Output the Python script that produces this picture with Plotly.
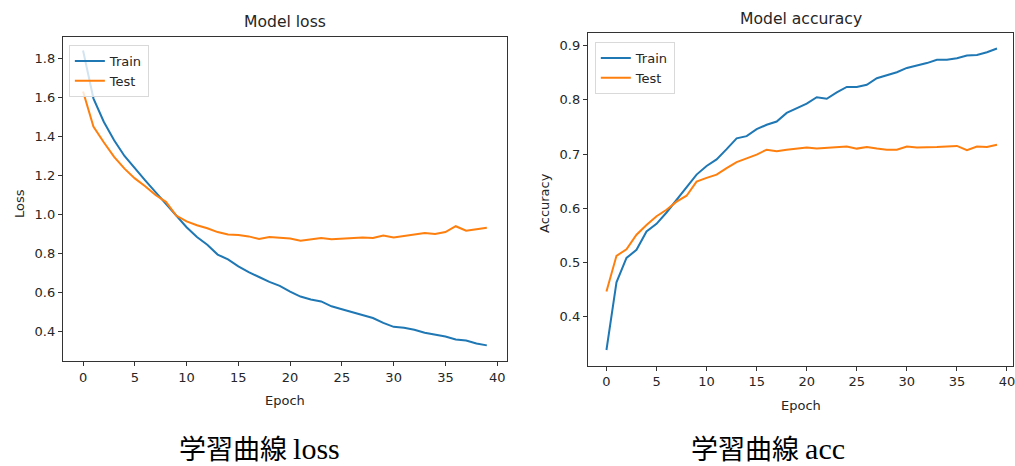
import plotly.graph_objects as go

epochs = list(range(40))

train_loss = [1.84, 1.595, 1.475, 1.38, 1.30, 1.235, 1.175, 1.115, 1.055, 0.995,
              0.935, 0.885, 0.845, 0.795, 0.77, 0.735, 0.705, 0.68, 0.655, 0.635,
              0.605, 0.58, 0.565, 0.555, 0.53, 0.515, 0.50, 0.485, 0.47, 0.445,
              0.425, 0.42, 0.41, 0.395, 0.385, 0.375, 0.36, 0.355, 0.34, 0.33]
test_loss = [1.63, 1.45, 1.37, 1.295, 1.235, 1.185, 1.145, 1.10, 1.065, 0.995,
             0.965, 0.945, 0.93, 0.91, 0.898, 0.895, 0.888, 0.875, 0.885, 0.88,
             0.877, 0.866, 0.874, 0.88, 0.874, 0.878, 0.88, 0.883, 0.88, 0.892,
             0.883, 0.89, 0.895, 0.905, 0.90, 0.91, 0.94, 0.917, 0.925, 0.932]
train_acc = [0.338, 0.463, 0.508, 0.523, 0.557, 0.571, 0.592, 0.616, 0.64, 0.662,
             0.678, 0.69, 0.709, 0.729, 0.733, 0.746, 0.754, 0.76, 0.776, 0.785,
             0.793, 0.805, 0.802, 0.814, 0.824, 0.824, 0.828, 0.84, 0.845, 0.851,
             0.859, 0.863, 0.868, 0.874, 0.874, 0.877, 0.882, 0.883, 0.888, 0.895]
test_acc = [0.446, 0.512, 0.524, 0.551, 0.569, 0.585, 0.597, 0.612, 0.623, 0.649,
            0.656, 0.662, 0.674, 0.685, 0.692, 0.699, 0.708, 0.705, 0.708, 0.71,
            0.712, 0.71, 0.711, 0.713, 0.714, 0.71, 0.713, 0.71, 0.708, 0.708,
            0.714, 0.712, 0.712, 0.713, 0.714, 0.715, 0.707, 0.714, 0.713, 0.717]

series_names = ["Train", "Test"]
loss_yticks = [0.4, 0.6, 0.8, 1.0, 1.2, 1.4, 1.6, 1.8]
acc_yticks = [0.4, 0.5, 0.6, 0.7, 0.8, 0.9]
xticks = [0, 5, 10, 15, 20, 25, 30, 35, 40]
titles = ["Model loss", "Model accuracy"]
ylabels = ["Loss", "Accuracy"]
xlabel = "Epoch"
caption_jp = "学習曲線"
caption_en = ["loss", "acc"]

W, H = 1015, 466
BLUE = "#1f77b4"
ORANGE = "#ff7f0e"
TXT = "#262626"
TICKFONT = dict(family="DejaVu Sans", size=13, color=TXT)

fig = go.Figure()
fig.add_trace(go.Scatter(x=epochs, y=train_loss, name=series_names[0], mode="lines",
                         line=dict(color=BLUE, width=2), xaxis="x", yaxis="y", legend="legend"))
fig.add_trace(go.Scatter(x=epochs, y=test_loss, name=series_names[1], mode="lines",
                         line=dict(color=ORANGE, width=2), xaxis="x", yaxis="y", legend="legend"))
fig.add_trace(go.Scatter(x=epochs, y=train_acc, name=series_names[0], mode="lines",
                         line=dict(color=BLUE, width=2), xaxis="x2", yaxis="y2", legend="legend2"))
fig.add_trace(go.Scatter(x=epochs, y=test_acc, name=series_names[1], mode="lines",
                         line=dict(color=ORANGE, width=2), xaxis="x2", yaxis="y2", legend="legend2"))

axis_common = dict(showgrid=False, zeroline=False, showline=True, linecolor="#333333",
                   linewidth=1, mirror=True, ticks="outside", ticklen=4, tickwidth=1,
                   tickcolor="#333333", tickfont=TICKFONT, ticklabeloverflow="allow")


def px(x):
    return x / W


def py(y):
    return 1 - y / H


fig.update_layout(
    width=W, height=H,
    margin=dict(l=0, r=0, t=0, b=0),
    paper_bgcolor="white", plot_bgcolor="white",
    showlegend=True,
    xaxis=dict(domain=[px(63), px(508)], range=[-1.95, 40.95], anchor="y",
               tickvals=xticks, **axis_common),
    yaxis=dict(domain=[py(361), py(37)], range=[0.25, 1.909], anchor="x",
               tickvals=loss_yticks, tickformat=".1f", **axis_common),
    xaxis2=dict(domain=[px(589), 1.0], range=[-1.86, 40.6], anchor="y2",
                tickvals=xticks, **axis_common),
    yaxis2=dict(domain=[py(365.7), py(33.3)], range=[0.309, 0.923], anchor="x2",
                tickvals=acc_yticks, tickformat=".1f", **axis_common),
    legend=dict(x=px(69), y=py(45), xanchor="left", yanchor="top",
                bgcolor="rgba(255,255,255,0.8)", bordercolor="#d9d9d9", borderwidth=1,
                font=dict(family="DejaVu Sans", size=13, color=TXT), tracegroupgap=0),
    legend2=dict(x=px(596), y=py(42), xanchor="left", yanchor="top",
                 bgcolor="rgba(255,255,255,0.8)", bordercolor="#d9d9d9", borderwidth=1,
                 font=dict(family="DejaVu Sans", size=13, color=TXT), tracegroupgap=0),
)

ann = []
ann.append(dict(text=titles[0], x=px(285.5), y=py(22), xref="paper", yref="paper",
                showarrow=False, xanchor="center", yanchor="middle",
                font=dict(family="DejaVu Sans", size=15.6, color=TXT)))
ann.append(dict(text=titles[1], x=px(803), y=py(19), xref="paper", yref="paper",
                showarrow=False, xanchor="center", yanchor="middle",
                font=dict(family="DejaVu Sans", size=15.6, color=TXT)))
ann.append(dict(text=xlabel, x=px(285.5), y=py(400), xref="paper", yref="paper",
                showarrow=False, xanchor="center", yanchor="middle",
                font=dict(family="DejaVu Sans", size=13, color=TXT)))
ann.append(dict(text=xlabel, x=px(803), y=py(405), xref="paper", yref="paper",
                showarrow=False, xanchor="center", yanchor="middle",
                font=dict(family="DejaVu Sans", size=13, color=TXT)))
ann.append(dict(text=ylabels[0], x=px(19), y=py(203), xref="paper", yref="paper",
                showarrow=False, xanchor="center", yanchor="middle", textangle=-90,
                font=dict(family="DejaVu Sans", size=13, color=TXT)))
ann.append(dict(text=ylabels[1], x=px(545), y=py(203), xref="paper", yref="paper",
                showarrow=False, xanchor="center", yanchor="middle", textangle=-90,
                font=dict(family="DejaVu Sans", size=13, color=TXT)))
for cx, en in zip([259.7, 770], caption_en):
    ann.append(dict(
        text=caption_jp + ' <span style="font-family:Liberation Serif;font-size:30px">' + en + '</span>',
        x=px(cx), y=py(447), xref="paper", yref="paper",
        showarrow=False, xanchor="center", yanchor="middle",
        font=dict(family="Noto Sans CJK JP", size=27, color="#000000")))
fig.update_layout(annotations=ann)

fig.write_html("out.html", config={"displayModeBar": False},
               post_script="document.body.style.margin='0';document.body.style.overflow='hidden';")
